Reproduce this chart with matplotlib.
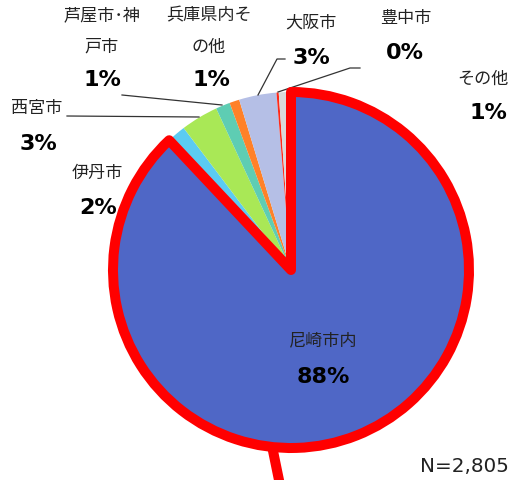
import matplotlib.pyplot as plt

plt.rcParams['font.family'] = ['Noto Sans CJK JP', 'DejaVu Sans']

names = ["尼崎市内", "伊丹市", "西宮市", "芦屋市･神\n戸市", "兵庫県内そ\nの他", "大阪市", "豊中市", "その他"]
shares = [88.0, 1.7, 3.4, 1.3, 0.9, 3.4, 0.2, 1.1]
colors = ["#4F67C6", "#5BCBF2", "#A9E856", "#5ECDB3", "#FF8128", "#B5BFE6", "#FF2A1A", "#D9D9D9"]

# pixel layout of the reference: pie centre (291, 270), radius 178
CX, CY, R = 291, 270, 178
W, H = 510, 480


def px(x, y):
    return (x - CX) / R, (CY - y) / R


fig = plt.figure(figsize=(W / 100, H / 100), dpi=100)
ax = fig.add_axes([0, 0, 1, 1])

wedges, _ = ax.pie(shares, colors=colors, startangle=90, counterclock=False,
                   wedgeprops=dict(linewidth=0))
big = wedges[0]
big.set_edgecolor("#FF0000")
big.set_linewidth(7.2)
big.set_joinstyle("round")
big.set_zorder(5)

# red callout line leaving the big slice at the bottom
ax.plot(*zip(px(272, 446), px(280, 485)), color="#FF0000", lw=7.2,
        solid_capstyle="butt", zorder=6)

# label positions (label centre, percent centre)
label_pos = [
    ((323, 340), (323, 377)),
    ((97, 173), (98, 208)),
    ((37, 108), (38, 144)),
    ((102, 31), (102, 80)),
    ((209, 31), (211, 80)),
    ((311, 23), (311, 58)),
    ((406, 18), (405, 53)),
    ((483, 79), (488, 113)),
]

for name, v, (lp, pp) in zip(names, shares, label_pos):
    ax.text(*px(*lp), name, ha="center", va="center", fontsize=12.3,
            color="#222222", linespacing=2.0, zorder=7)
    ax.text(*px(*pp), f"{v:.0f}%", ha="center", va="center", fontsize=16,
            fontweight="bold", family="DejaVu Sans", color="black", zorder=7)

# leader lines
leaders = [
    [(67, 116), (199, 117)],
    [(122, 95), (222, 105)],
    [(285, 59), (277, 59), (258, 95)],
    [(360, 68), (350, 68), (278, 92)],
]
for pts in leaders:
    xs, ys = zip(*[px(*p) for p in pts])
    ax.plot(xs, ys, color="#333333", lw=0.9, zorder=4)

ax.text(*px(420, 466), "N=2,805", ha="left", va="center", fontsize=14.3,
        family="DejaVu Sans", color="#222222")

ax.set_xlim((0 - CX) / R, (W - CX) / R)
ax.set_ylim((CY - H) / R, CY / R)
ax.set_aspect("equal")
ax.axis("off")

fig.savefig("out.png", dpi=100)
